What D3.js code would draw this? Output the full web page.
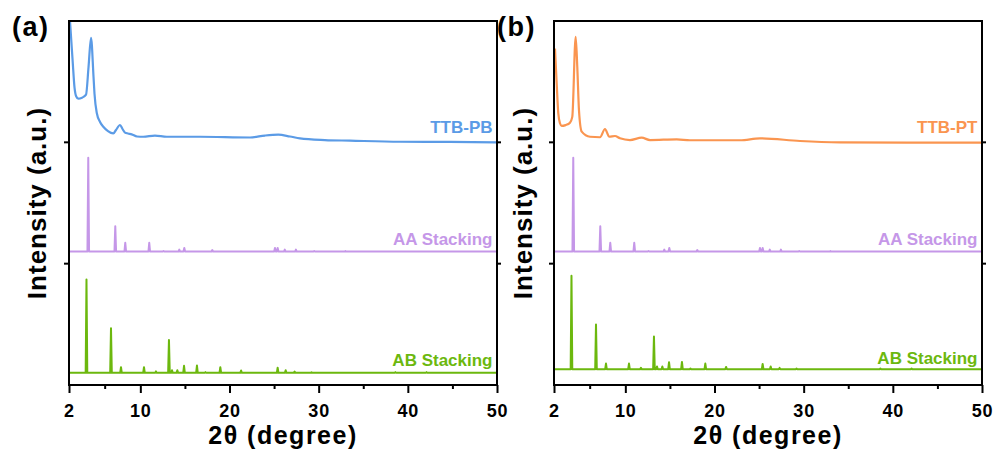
<!DOCTYPE html>
<html>
<head>
<meta charset="utf-8">
<script src="https://cdn.jsdelivr.net/npm/d3@7"></script>
<style>
  html, body { margin: 0; padding: 0; background: #fff; }
  svg { display: block; }
  text { font-family: Arial, "Liberation Sans", sans-serif; font-weight: bold; }
</style>
</head>
<body>
<svg id="chart" width="998" height="452"></svg>
<script>
// ---------- DATA ----------
const xTicks = [2, 10, 20, 30, 40, 50];
const xMinorTicks = [6, 15, 25, 35, 45];
const panelLetters = ["(a)", "(b)"];
const seriesNamesA = ["TTB-PB", "AA Stacking", "AB Stacking"];
const seriesNamesB = ["TTB-PT", "AA Stacking", "AB Stacking"];

// Experimental PXRD (2θ, intensity above its own baseline, a.u.)
const ttbPB = [
  [2.11, 100], [2.4, 68], [2.62, 45], [2.8, 38], [3.04, 36], [3.46, 36.8], [3.91, 39.3],
  [4.19, 62], [4.47, 86.2], [4.75, 54], [4.86, 40], [5.11, 24.4], [5.48, 16.8], [5.85, 12.9],
  [6.37, 9.3], [6.97, 7.4], [7.27, 10.2], [7.72, 14.3], [8.0, 11], [8.28, 8], [8.62, 7.3],
  [9.03, 6.6], [9.63, 4.8], [10.33, 4.6], [11.64, 5.5], [12.96, 4.6], [16.69, 4.6], [22.3, 4.0],
  [23.98, 5.6], [25.47, 6.3], [26.78, 4.8], [27.9, 3.3], [30.7, 1.9], [33.5, 1.4], [39.1, 0.5],
  [44.7, 0.3], [50, 0]
];
const ttbPT = [
  [2.11, 77.2], [2.3, 48.7], [2.48, 24], [2.67, 15.7], [2.86, 13.5], [3.3, 14.2], [3.79, 16.2],
  [4.05, 21], [4.43, 87], [4.61, 62.4], [4.8, 26.6], [5.11, 8.8], [6.04, 4.6], [7.16, 4.2],
  [7.72, 11], [8.2, 4.6], [8.84, 5.2], [9.4, 3.3], [10.52, 1.9], [11.83, 3.8], [12.77, 1.9],
  [15.76, 2.5], [17.25, 1.7], [22.86, 1.7], [25.1, 3.3], [29.59, 1.1], [34.07, 0], [41.55, -0.3],
  [50, -0.3]
];
// Simulated patterns: [2θ, peak height]
const aaPeaks = [
  [4.16, 77.2], [7.19, 20.9], [8.31, 7.2], [11.0, 7.2], [12.6, 0.5], [14.37, 1.6], [14.93, 3.0],
  [18.07, 1.2], [25.1, 3.0], [25.4, 3.0], [26.2, 1.6], [27.45, 1.6], [29.5, 0.5], [33.0, 0.4]
];
const abPeaks = [
  [3.96, 77], [6.71, 36.8], [7.83, 4.7], [10.41, 4.7], [11.75, 1.2], [13.21, 27], [13.55, 2.2],
  [14.15, 2.2], [14.9, 5.8], [16.35, 6.0], [17.3, 0.6], [18.97, 4.7], [21.3, 1.9], [25.4, 4.3],
  [26.3, 2.2], [27.3, 1.1], [29.2, 0.5], [38.6, 0.6], [42.1, 0.6]
];
// vertical offsets (baselines) per panel
const offsetsA = [200, 110, 10];
const offsetsB = [200, 110, 13];

// ---------- LAYOUT ----------
const colors = ["#5b9be6", "#c597e8", "#6cb80e"];
const colorsB = ["#fa9550", "#c597e8", "#6cb80e"];
const svg = d3.select("#chart");
const panels = [
  { left: 69, right: 497, letterX: 12, ylabX: 45.5, names: seriesNamesA, offs: offsetsA, cols: colors, exp: ttbPB },
  { left: 554, right: 982, letterX: 497, ylabX: 531.5, names: seriesNamesB, offs: offsetsB, cols: colorsB, exp: ttbPT }
];
const plotTop = 21, plotBottom = 385;
const y = d3.scaleLinear().domain([0, 300]).range([plotBottom, plotTop]);

function spikes(peaks, off) {
  const hw = 0.09;
  const pts = [[2, off]];
  peaks.slice().sort((a, b) => a[0] - b[0]).forEach(([p, h]) => {
    pts.push([p - hw, off], [p, off + h], [p + hw, off]);
  });
  pts.push([50, off]);
  return pts;
}

panels.forEach((P, i) => {
  const x = d3.scaleLinear().domain([2, 50]).range([P.left, P.right]);
  const g = svg.append("g");
  const clipId = "clip" + i;
  svg.append("clipPath").attr("id", clipId).append("rect")
    .attr("x", P.left).attr("y", plotTop).attr("width", P.right - P.left).attr("height", plotBottom - plotTop);

  const plot = g.append("g").attr("clip-path", `url(#${clipId})`);
  const smooth = d3.line().x(d => x(d[0])).y(d => y(d[1])).curve(d3.curveMonotoneX);
  const lin = d3.line().x(d => x(d[0])).y(d => y(d[1]));

  // simulated
  plot.append("path").attr("d", lin(spikes(abPeaks, P.offs[2])))
    .attr("fill", "none").attr("stroke", P.cols[2]).attr("stroke-width", 2).attr("stroke-linejoin", "round");
  plot.append("path").attr("d", lin(spikes(aaPeaks, P.offs[1])))
    .attr("fill", "none").attr("stroke", P.cols[1]).attr("stroke-width", 2).attr("stroke-linejoin", "round");
  // experimental
  plot.append("path").attr("d", smooth(P.exp.map(d => [d[0], d[1] + P.offs[0]])))
    .attr("fill", "none").attr("stroke", P.cols[0]).attr("stroke-width", 2.2).attr("stroke-linejoin", "round");

  // series labels
  const labY = [132.5, 245, 365.5];
  const labY2 = [133, 245, 363.5];
  P.names.forEach((n, k) => {
    g.append("text").attr("x", P.right - 4.5).attr("y", i === 0 ? labY[k] : labY2[k])
      .attr("text-anchor", "end").attr("font-size", 17).attr("fill", P.cols[k]).text(n);
  });

  // axes frame
  g.append("rect").attr("x", P.left).attr("y", plotTop).attr("width", P.right - P.left).attr("height", plotBottom - plotTop)
    .attr("fill", "none").attr("stroke", "#000").attr("stroke-width", 2);

  // bottom axis
  const xAxis = d3.axisBottom(x).tickValues(xTicks).tickSize(8).tickFormat(d3.format("d"));
  const ax = g.append("g").attr("transform", `translate(0,${plotBottom})`).call(xAxis);
  ax.select(".domain").remove();
  ax.selectAll(".tick line").attr("stroke", "#000").attr("stroke-width", 2);
  ax.selectAll(".tick text").attr("font-size", 18).attr("dy", null).attr("y", 31.5)
    .attr("fill", "#000").style("letter-spacing", "0.8px")
    .attr("font-family", "Arial, 'Liberation Sans', sans-serif").attr("font-weight", "bold");
  const axm = g.append("g").attr("transform", `translate(0,${plotBottom})`)
    .call(d3.axisBottom(x).tickValues(xMinorTicks).tickSize(4).tickFormat(""));
  axm.select(".domain").remove();
  axm.selectAll(".tick line").attr("stroke", "#000").attr("stroke-width", 2);

  // left & right ticks (no labels)
  [100, 200].forEach(v => {
    g.append("line").attr("x1", P.left - 5).attr("x2", P.left).attr("y1", y(v)).attr("y2", y(v))
      .attr("stroke", "#000").attr("stroke-width", 2);
    g.append("line").attr("x1", P.right).attr("x2", P.right + 4).attr("y1", y(v)).attr("y2", y(v))
      .attr("stroke", "#000").attr("stroke-width", 2);
  });

  // axis titles
  g.append("text").attr("x", (P.left + P.right) / 2).attr("y", 443.5).attr("text-anchor", "middle")
    .attr("font-size", 25).style("letter-spacing", "1.5px").attr("fill", "#000").text("2θ (degree)");
  g.append("text").attr("transform", `translate(${P.ylabX},${(plotTop + plotBottom) / 2}) rotate(-90)`)
    .attr("text-anchor", "middle").attr("font-size", 26).style("letter-spacing", "1px")
    .attr("fill", "#000").text("Intensity (a.u.)");

  // panel letter
  g.append("text").attr("x", P.letterX).attr("y", 36).attr("font-size", 27)
    .style("letter-spacing", "1.5px").attr("fill", "#000").text(panelLetters[i]);
});
</script>
</body>
</html>
